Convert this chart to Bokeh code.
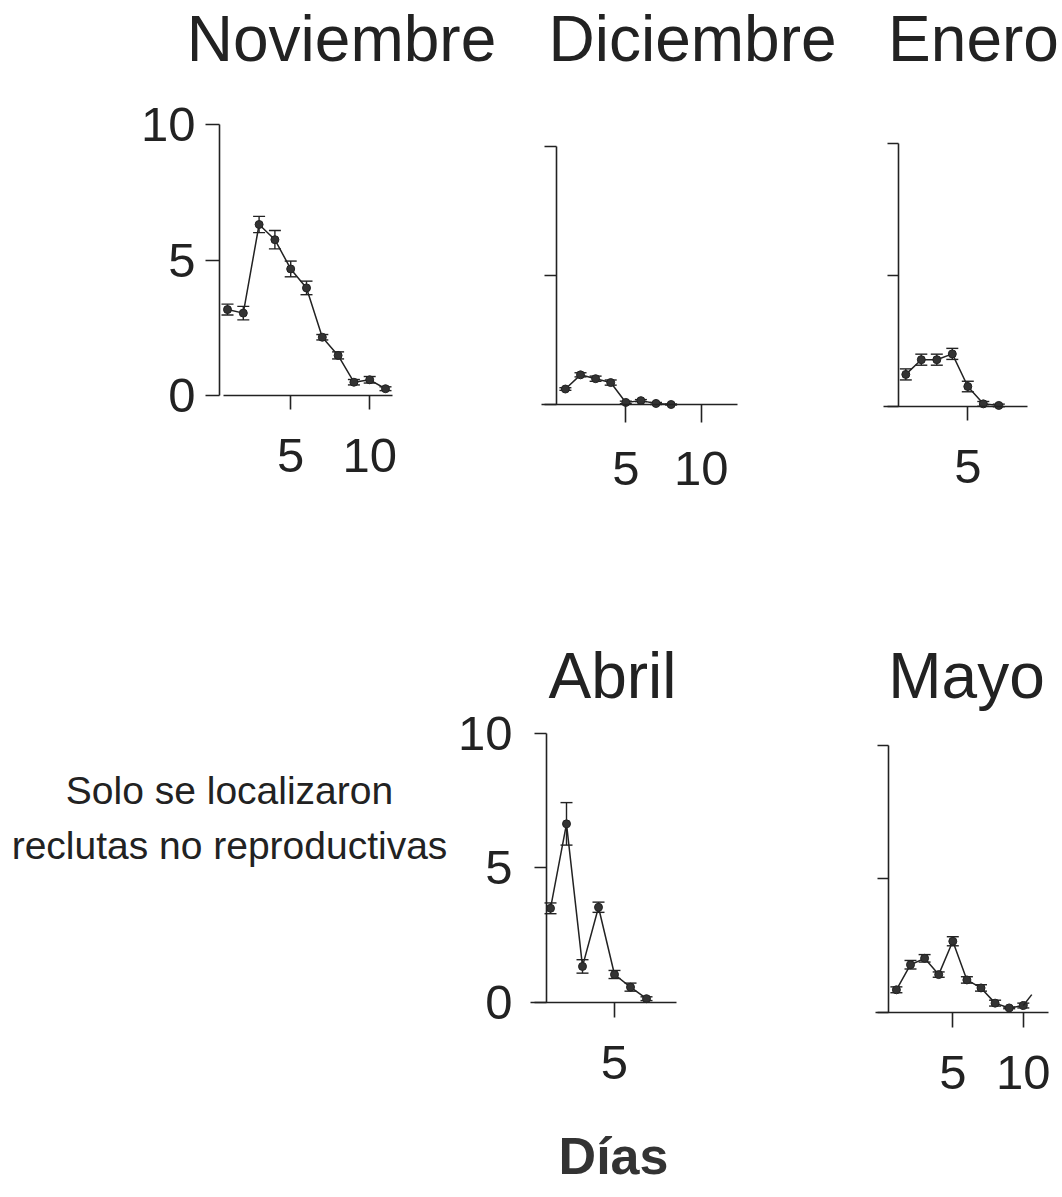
from bokeh.plotting import figure
from bokeh.models import (Range1d, LinearAxis, FixedTicker, Whisker, TeeHead,
                          ColumnDataSource, Label)
from bokeh.embed import file_html
from bokeh.resources import INLINE

# ---- data: mean count per day, with error (+/-) ----
nov_days = [1, 2, 3, 4, 5, 6, 7, 8, 9, 10, 11]
nov_mean = [3.17, 3.04, 6.31, 5.75, 4.67, 3.97, 2.15, 1.48, 0.49, 0.58, 0.25]
nov_err = [0.20, 0.25, 0.30, 0.34, 0.29, 0.25, 0.10, 0.13, 0.10, 0.12, 0.07]

dic_days = [1, 2, 3, 4, 5, 6, 7, 8]
dic_mean = [0.60, 1.15, 1.00, 0.85, 0.08, 0.15, 0.04, 0.00]
dic_err = [0.05, 0.08, 0.10, 0.10, 0.05, 0.04, 0.04, 0.02]

ene_days = [1, 2, 3, 4, 5, 6, 7]
ene_mean = [1.22, 1.78, 1.78, 2.00, 0.76, 0.10, 0.04]
ene_err = [0.21, 0.21, 0.21, 0.21, 0.20, 0.09, 0.05]

abr_days = [1, 2, 3, 4, 5, 6, 7]
abr_mean = [3.49, 6.63, 1.33, 3.53, 1.03, 0.56, 0.13]
abr_err = [0.20, 0.79, 0.25, 0.19, 0.15, 0.15, 0.07]

may_days = [1, 2, 3, 4, 5, 6, 7, 8, 9, 10]
may_mean = [0.84, 1.78, 2.02, 1.41, 2.66, 1.21, 0.91, 0.34, 0.16, 0.25]
may_err = [0.11, 0.16, 0.14, 0.10, 0.17, 0.12, 0.12, 0.11, 0.03, 0.09]
# trailing line segment after day 10
may_tail_days = [10, 10.6]
may_tail_mean = [0.25, 0.66]

titles = ["Noviembre", "Diciembre", "Enero", "Abril", "Mayo"]
y_ticks = [0, 5, 10]
note_lines = ["Solo se localizaron", "reclutas no reproductivas"]
x_title = "Días"

W, H = 1062, 1197
FONT = "Liberation Sans, Arial, sans-serif"
INK = "#222222"

# page canvas in pixel units (y grows downwards)
p = figure(width=W, height=H, x_range=Range1d(0, W), y_range=Range1d(H, 0),
           x_axis_type=None, y_axis_type=None, toolbar_location=None,
           output_backend="svg", min_border=0, outline_line_color=None,
           background_fill_color="white", border_fill_color="white")

# panel placement: pixel of day 0 / count 0, pixels per unit, axis extents
panels = [
    dict(key="nov", title=titles[0], days=nov_days, mean=nov_mean, err=nov_err,
         x0=211.2, kx=15.8, y0=395.0, ky=27.1, yaxis_at=0.5, xspan=(0.75, 11.45),
         xticks=[5, 10], ylabels=True, ystand=10, ytick=14, xtick=14,
         title_xy=(341, 38)),
    dict(key="dic", title=titles[1], days=dic_days, mean=dic_mean, err=dic_err,
         x0=549.8, kx=15.1, y0=404.0, ky=25.8, yaxis_at=0.42, xspan=(-0.55, 12.4),
         xticks=[5, 10], ylabels=False, ystand=10, ytick=12, xtick=18,
         title_xy=(692, 38)),
    dict(key="ene", title=titles[2], days=ene_days, mean=ene_mean, err=ene_err,
         x0=889.8, kx=15.5, y0=406.0, ky=26.3, yaxis_at=0.5, xspan=(-0.46, 8.83),
         xticks=[5], ylabels=False, ystand=10, ytick=11, xtick=14,
         title_xy=(973, 38)),
    dict(key="abr", title=titles[3], days=abr_days, mean=abr_mean, err=abr_err,
         x0=534.0, kx=16.0, y0=1001.7, ky=26.9, yaxis_at=0.75, xspan=(-0.25, 8.9),
         xticks=[5], ylabels=True, ystand=22, ytick=12, xtick=15,
         title_xy=(612, 675)),
    dict(key="may", title=titles[4], days=may_days, mean=may_mean, err=may_err,
         x0=881.8, kx=14.1, y0=1011.7, ky=26.67, yaxis_at=0.44, xspan=(-0.49, 11.8),
         xticks=[5, 10], ylabels=False, ystand=10, ytick=11, xtick=15,
         title_xy=(966, 675)),
]

for pn in panels:
    k = pn["key"]
    # data ranges spanning the whole canvas so that the panel lands at its spot
    p.extra_x_ranges[k] = Range1d(-pn["x0"] / pn["kx"], (W - pn["x0"]) / pn["kx"])
    p.extra_y_ranges[k] = Range1d((pn["y0"] - H) / pn["ky"], pn["y0"] / pn["ky"])

    yax = LinearAxis(x_range_name=k, y_range_name=k, fixed_location=pn["yaxis_at"],
                     bounds=(0, 10), ticker=FixedTicker(ticks=y_ticks))
    xax = LinearAxis(x_range_name=k, y_range_name=k, fixed_location=0,
                     bounds=pn["xspan"], ticker=FixedTicker(ticks=pn["xticks"]))
    for ax, tick in ((yax, pn["ytick"]), (xax, pn["xtick"])):
        ax.axis_line_color = INK
        ax.axis_line_width = 1.6
        ax.major_tick_line_color = INK
        ax.major_tick_line_width = 1.6
        ax.major_tick_in = 0
        ax.major_tick_out = tick
        ax.minor_tick_line_color = None
        ax.major_label_text_font = FONT
        ax.major_label_text_font_size = "49px"
        ax.major_label_text_color = INK
    xax.major_label_standoff = 29
    yax.major_label_standoff = pn["ystand"]
    if not pn["ylabels"]:
        yax.major_label_text_color = None
    p.add_layout(yax, "left")
    p.add_layout(xax, "below")

    src = ColumnDataSource(dict(
        day=pn["days"], mean=pn["mean"],
        lo=[m - e for m, e in zip(pn["mean"], pn["err"])],
        hi=[m + e for m, e in zip(pn["mean"], pn["err"])],
    ))
    p.line("day", "mean", source=src, x_range_name=k, y_range_name=k,
           line_color=INK, line_width=1.5)
    p.add_layout(Whisker(base="day", lower="lo", upper="hi", source=src,
                         x_range_name=k, y_range_name=k,
                         line_color=INK, line_width=1.4,
                         upper_head=TeeHead(size=12, line_color=INK, line_width=1.4),
                         lower_head=TeeHead(size=12, line_color=INK, line_width=1.4)))
    p.scatter("day", "mean", source=src, x_range_name=k, y_range_name=k,
              size=8, fill_color="#333333", line_color=INK, line_width=1)

    tx, ty = pn["title_xy"]
    p.add_layout(Label(x=tx, y=ty, text=pn["title"], text_font=FONT,
                       text_font_size="64px", text_color=INK,
                       text_align="center", text_baseline="middle"))

p.line(may_tail_days, may_tail_mean, x_range_name="may", y_range_name="may",
       line_color=INK, line_width=1.5)

for line_text, mid in zip(note_lines, (790, 845)):
    p.add_layout(Label(x=229, y=mid, text=line_text, text_font=FONT,
                       text_font_size="39px", text_color=INK,
                       text_align="center", text_baseline="middle"))

p.add_layout(Label(x=613, y=1155, text=x_title, text_font=FONT,
                   text_font_style="bold", text_font_size="52px", text_color="#333333",
                   text_align="center", text_baseline="middle"))

open("out.html", "w").write(file_html(p, INLINE))
